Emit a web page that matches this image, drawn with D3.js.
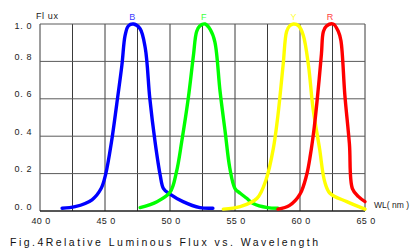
<!DOCTYPE html>
<html>
<head>
<meta charset="utf-8">
<script src="https://cdn.jsdelivr.net/npm/d3@7"></script>
<style>
  body { margin: 0; background: #fff; }
  svg text { font-family: "Liberation Sans", Arial, sans-serif; }
</style>
</head>
<body>
<svg id="chart" width="411" height="250"></svg>
<script>
// wavelength (nm) and relative flux
const blueNm  = [417, 427, 440, 447, 450.5, 455, 459, 463, 465.5, 468, 472, 477, 481, 484.5, 488.5, 492.5, 495, 500, 510, 523, 533];
const blueVal = [0.015, 0.023, 0.06, 0.12, 0.196, 0.37, 0.57, 0.78, 0.94, 0.99, 1.0, 0.975, 0.87, 0.6, 0.37, 0.19, 0.12, 0.09, 0.05, 0.018, 0.015];

const greenNm  = [477, 490, 500, 505, 509, 514, 518, 520.5, 523, 527, 531, 534.5, 538.5, 542.5, 546, 550, 554, 559, 564, 575, 583];
const greenVal = [0.018, 0.05, 0.10, 0.21, 0.37, 0.6, 0.83, 0.96, 0.99, 1.0, 0.97, 0.905, 0.64, 0.42, 0.23, 0.12, 0.095, 0.068, 0.04, 0.018, 0.015];

const yellowNm  = [541, 554, 567, 574, 579.5, 583, 587, 589.7, 592, 595, 599, 602.5, 606.5, 610, 615, 619, 623, 636, 650];
const yellowVal = [0.01, 0.023, 0.068, 0.17, 0.335, 0.51, 0.78, 0.96, 0.99, 1.0, 0.99, 0.94, 0.78, 0.55, 0.335, 0.157, 0.095, 0.05, 0.01];

const redNm  = [583, 592, 600, 605, 608, 611, 614, 616.5, 618, 620.5, 625.5, 629.5, 631.5, 634.5, 638, 640.3, 645, 650];
const redVal = [0.01, 0.03, 0.09, 0.19, 0.3, 0.45, 0.65, 0.84, 0.96, 0.99, 1.0, 0.96, 0.91, 0.62, 0.36, 0.12, 0.077, 0.05];

const seriesNames  = ["B", "F", "Y", "R"];
const seriesPeaks  = [471, 526, 595, 623];   // where the letter sits
const seriesColors = ["#0000ff", "#00ff00", "#ffff00", "#ff0000"];
const labelColors  = ["#4040ff", "#40ff40", "#ffff40", "#ff4040"];

const xTicks = [400, 450, 500, 550, 600, 650];
const xGrid  = [400, 425, 450, 475, 500, 525, 550, 575, 600, 625, 650];
const yTicks = [0, 0.2, 0.4, 0.6, 0.8, 1.0];
const yTickLabels = ["0. 0", "0. 2", "0. 4", "0. 6", "0. 8", "1. 0"];
const xTickLabels = ["40 0", "45 0", "50 0", "55 0", "60 0", "65 0"];

const svg = d3.select("#chart");
const margin = { top: 24, right: 46, bottom: 39, left: 40 };
const width = 411 - margin.left - margin.right;
const height = 250 - margin.top - margin.bottom;

const x = d3.scaleLinear().domain([400, 650]).range([0, width]);
const y = d3.scaleLinear().domain([0, 1]).range([height, 0]);

const g = svg.append("g").attr("transform", `translate(${margin.left},${margin.top})`);

// grid
g.selectAll(".vgrid").data(xGrid).enter().append("line")
  .attr("x1", d => x(d)).attr("x2", d => x(d))
  .attr("y1", 0).attr("y2", height)
  .attr("stroke", "#3a3a3a").attr("stroke-width", 1);
g.selectAll(".hgrid").data(yTicks).enter().append("line")
  .attr("x1", 0).attr("x2", width)
  .attr("y1", d => y(d)).attr("y2", d => y(d))
  .attr("stroke", "#5a5a5a").attr("stroke-width", 1);

// bottom axis line
g.append("line").attr("x1", 0).attr("x2", width).attr("y1", height).attr("y2", height)
  .attr("stroke", "#000").attr("stroke-width", 1);

// y labels
g.selectAll(".ylab").data(yTicks).enter().append("text")
  .attr("x", -8)
  .attr("y", d => Math.max(y(d) - 4.5, 1.5) + 3)
  .attr("text-anchor", "end")
  .attr("font-size", 9)
  .attr("letter-spacing", 0.6)
  .attr("fill", "#222")
  .text((d, i) => yTickLabels[i]);

// x labels
g.selectAll(".xlab").data(xTicks).enter().append("text")
  .attr("x", d => x(d) + 1)
  .attr("y", height + 13)
  .attr("text-anchor", "middle")
  .attr("font-size", 9)
  .attr("letter-spacing", 0.4)
  .attr("fill", "#222")
  .text((d, i) => xTickLabels[i]);

// curves
const line = d3.line()
  .x(d => x(d[0]))
  .y(d => y(d[1]))
  .curve(d3.curveCatmullRom.alpha(0.5));

const series = [
  d3.zip(blueNm, blueVal),
  d3.zip(greenNm, greenVal),
  d3.zip(yellowNm, yellowVal),
  d3.zip(redNm, redVal)
];

g.selectAll(".curve").data(series).enter().append("path")
  .attr("d", line)
  .attr("fill", "none")
  .attr("stroke", (d, i) => seriesColors[i])
  .attr("stroke-width", 3.4)
  .attr("stroke-linejoin", "round")
  .attr("stroke-linecap", "round");

// curve letters
g.selectAll(".slab").data(seriesNames).enter().append("text")
  .attr("x", (d, i) => x(seriesPeaks[i]))
  .attr("y", -4)
  .attr("text-anchor", "middle")
  .attr("font-size", 9)
  .attr("fill", (d, i) => labelColors[i])
  .text(d => d);

// axis titles
svg.append("text").attr("x", 36).attr("y", 18.5)
  .attr("font-size", 9).attr("letter-spacing", 0.6).attr("fill", "#222").text("Fl ux");
svg.append("text").attr("x", 374).attr("y", 207.5)
  .attr("font-size", 8.5).attr("textLength", 35).attr("lengthAdjust", "spacingAndGlyphs")
  .attr("fill", "#222").text("WL( nm )");

// caption
svg.append("text").attr("x", 10).attr("y", 246)
  .attr("font-size", 10.5)
  .attr("textLength", 308).attr("lengthAdjust", "spacing")
  .attr("fill", "#111")
  .text("Fig.4Relative Luminous Flux vs. Wavelength");
</script>
</body>
</html>
